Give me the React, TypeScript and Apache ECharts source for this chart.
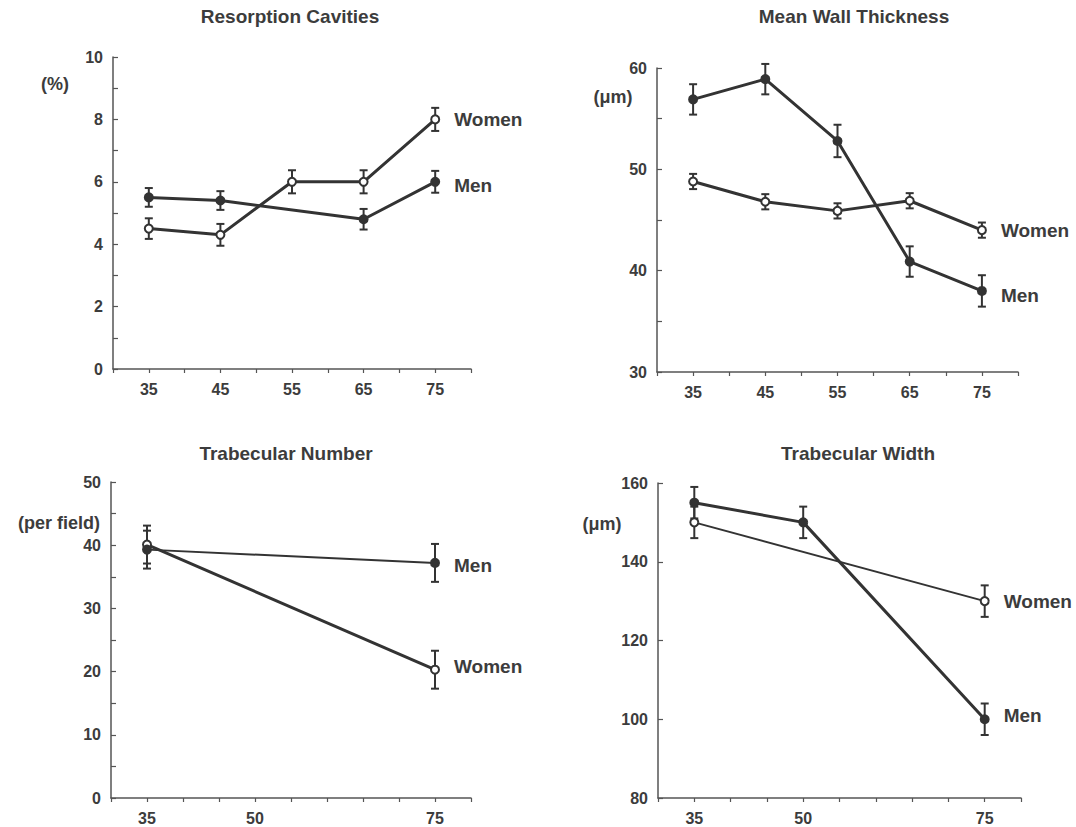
import React, { useEffect, useRef } from "react";
import * as echarts from "echarts";

// ---- Data ----
const titles = ["Resorption Cavities", "Mean Wall Thickness", "Trabecular Number", "Trabecular Width"];
const units = ["(%)", "(\u03bcm)", "(per field)", "(\u03bcm)"];

// Panel 1: Resorption Cavities
const womenAges1 = [35, 45, 55, 65, 75];
const women1 = [4.5, 4.3, 6.0, 6.0, 8.0];
const women1Err = [0.33, 0.35, 0.37, 0.37, 0.37];
const menAges1 = [35, 45, 65, 75];
const men1 = [5.5, 5.4, 4.8, 6.0];
const men1Err = [0.3, 0.3, 0.33, 0.35];

// Panel 2: Mean Wall Thickness
const womenAges2 = [35, 45, 55, 65, 75];
const women2 = [48.8, 46.8, 45.9, 46.9, 44.0];
const women2Err = [0.75, 0.75, 0.75, 0.75, 0.75];
const menAges2 = [35, 45, 55, 65, 75];
const men2 = [56.9, 58.9, 52.8, 40.9, 38.0];
const men2Err = [1.5, 1.5, 1.6, 1.5, 1.55];

// Panel 3: Trabecular Number
const womenAges3 = [35, 75];
const women3 = [40.1, 20.3];
const women3Err = [3, 3];
const menAges3 = [35, 75];
const men3 = [39.3, 37.2];
const men3Err = [3, 3];

// Panel 4: Trabecular Width
const womenAges4 = [35, 75];
const women4 = [150, 130];
const women4Err = [4, 4];
const menAges4 = [35, 50, 75];
const men4 = [155, 150, 100];
const men4Err = [4, 4, 4];

// Tick labels
const xLabelsTop = [35, 45, 55, 65, 75];
const xLabelsBottom = [35, 50, 75];
const yLabels1 = [0, 2, 4, 6, 8, 10];
const yLabels2 = [30, 40, 50, 60];
const yLabels3 = [0, 10, 20, 30, 40, 50];
const yLabels4 = [80, 100, 120, 140, 160];

const FONT = "'Liberation Sans', Arial, Helvetica, sans-serif";
const INK = "#333";
const TEXT = "#3c3c3c";

export default function App() {
  const ref = useRef<HTMLDivElement>(null);

  useEffect(() => {
    if (!ref.current) return;
    const chart = echarts.init(ref.current, undefined, { renderer: "svg" });

    const grids = [
      { left: 113, top: 57, width: 358, height: 312 },
      { left: 657, top: 68, width: 361, height: 304 },
      { left: 111, top: 482, width: 360, height: 316 },
      { left: 658, top: 483, width: 363, height: 315 },
    ];

    const xLabelSets = [xLabelsTop, xLabelsTop, xLabelsBottom, xLabelsBottom];
    const yRanges = [
      { min: 0, max: 10, interval: 1, labels: yLabels1 },
      { min: 30, max: 60, interval: 5, labels: yLabels2 },
      { min: 0, max: 50, interval: 5, labels: yLabels3 },
      { min: 80, max: 160, interval: 20, labels: yLabels4 },
    ];

    const xAxis = grids.map((_, i) => ({
      type: "value",
      gridIndex: i,
      min: 30,
      max: 80,
      interval: 5,
      splitLine: { show: false },
      axisLine: { show: true, lineStyle: { color: "#555", width: 1.5 } },
      axisTick: { show: true, inside: false, length: 4, lineStyle: { color: "#555", width: 1.2 } },
      axisLabel: {
        margin: 12,
        color: TEXT,
        fontSize: 16,
        fontWeight: "bold",
        fontFamily: FONT,
        formatter: (v: number) => (xLabelSets[i].includes(v) ? String(v) : ""),
      },
    }));

    const yAxis = yRanges.map((r, i) => ({
      type: "value",
      gridIndex: i,
      min: r.min,
      max: r.max,
      interval: r.interval,
      splitLine: { show: false },
      axisLine: { show: true, lineStyle: { color: "#555", width: 1.5 } },
      axisTick: { show: true, inside: true, length: 5, lineStyle: { color: "#555", width: 1.2 } },
      axisLabel: {
        margin: 10,
        color: TEXT,
        fontSize: 16,
        fontWeight: "bold",
        fontFamily: FONT,
        formatter: (v: number) => (r.labels.includes(v) ? String(v) : ""),
      },
    }));

    const labelStyle = {
      show: true,
      position: "right",
      distance: 14,
      formatter: "{a}",
      color: TEXT,
      fontSize: 19,
      fontWeight: "bold",
      fontFamily: FONT,
    };

    const lineSeries = (
      name: string,
      idx: number,
      ages: number[],
      vals: number[],
      filled: boolean,
      width: number,
      labelOffset: number[]
    ) => ({
      type: "line",
      name,
      xAxisIndex: idx,
      yAxisIndex: idx,
      z: 3,
      symbol: "circle",
      symbolSize: 8,
      showAllSymbol: true,
      lineStyle: { color: INK, width },
      itemStyle: { color: filled ? INK : "#fff", borderColor: INK, borderWidth: 2 },
      data: ages.map((a, k) => {
        const item: any = { value: [a, vals[k]] };
        if (k === ages.length - 1) item.label = { ...labelStyle, offset: labelOffset };
        return item;
      }),
    });

    const errSeries = (idx: number, ages: number[], vals: number[], errs: number[]) => ({
      type: "custom",
      xAxisIndex: idx,
      yAxisIndex: idx,
      z: 2,
      encode: { x: 0, y: [1, 2] },
      data: ages.map((a, k) => [a, vals[k] - errs[k], vals[k] + errs[k]]),
      renderItem: (params: any, api: any) => {
        const x = api.value(0);
        const top = api.coord([x, api.value(2)]);
        const bot = api.coord([x, api.value(1)]);
        const w = 4;
        const style = { stroke: INK, lineWidth: 2 };
        return {
          type: "group",
          children: [
            { type: "line", shape: { x1: top[0], y1: top[1], x2: bot[0], y2: bot[1] }, style },
            { type: "line", shape: { x1: top[0] - w, y1: top[1], x2: top[0] + w, y2: top[1] }, style },
            { type: "line", shape: { x1: bot[0] - w, y1: bot[1], x2: bot[0] + w, y2: bot[1] }, style },
          ],
        };
      },
    });

    const series = [
      errSeries(0, womenAges1, women1, women1Err),
      errSeries(0, menAges1, men1, men1Err),
      lineSeries("Women", 0, womenAges1, women1, false, 3, [0, 0]),
      lineSeries("Men", 0, menAges1, men1, true, 3, [0, 4]),

      errSeries(1, womenAges2, women2, women2Err),
      errSeries(1, menAges2, men2, men2Err),
      lineSeries("Women", 1, womenAges2, women2, false, 3, [0, 0]),
      lineSeries("Men", 1, menAges2, men2, true, 3, [0, 5]),

      errSeries(2, womenAges3, women3, women3Err),
      errSeries(2, menAges3, men3, men3Err),
      lineSeries("Women", 2, womenAges3, women3, false, 3, [0, -3]),
      lineSeries("Men", 2, menAges3, men3, true, 2, [0, 3]),

      errSeries(3, womenAges4, women4, women4Err),
      errSeries(3, menAges4, men4, men4Err),
      lineSeries("Women", 3, womenAges4, women4, false, 2, [0, 0]),
      lineSeries("Men", 3, menAges4, men4, true, 3, [0, -4]),
    ];

    const titlePos = [
      [290, 16],
      [854, 16],
      [286, 453],
      [858, 453],
    ];
    const unitPos = [
      [55, 84],
      [613, 97],
      [59, 523],
      [602, 524],
    ];

    const graphic: any[] = [];
    titles.forEach((t, i) => {
      graphic.push({
        type: "text",
        x: titlePos[i][0],
        y: titlePos[i][1],
        style: {
          text: t,
          fill: TEXT,
          font: `bold 19px ${FONT}`,
          textAlign: "center",
          textVerticalAlign: "middle",
          align: "center",
          verticalAlign: "middle",
        },
      });
    });
    units.forEach((t, i) => {
      graphic.push({
        type: "text",
        x: unitPos[i][0],
        y: unitPos[i][1],
        style: {
          text: t,
          fill: TEXT,
          font: `bold 18px ${FONT}`,
          textAlign: "center",
          textVerticalAlign: "middle",
          align: "center",
          verticalAlign: "middle",
        },
      });
    });

    chart.setOption({
      animation: false,
      backgroundColor: "#fff",
      grid: grids,
      xAxis,
      yAxis,
      series,
      graphic,
    } as any);

    return () => chart.dispose();
  }, []);

  return (
    <div
      ref={ref}
      style={{ position: "absolute", left: 0, top: 0, width: 1076, height: 827, background: "#fff" }}
    />
  );
}
